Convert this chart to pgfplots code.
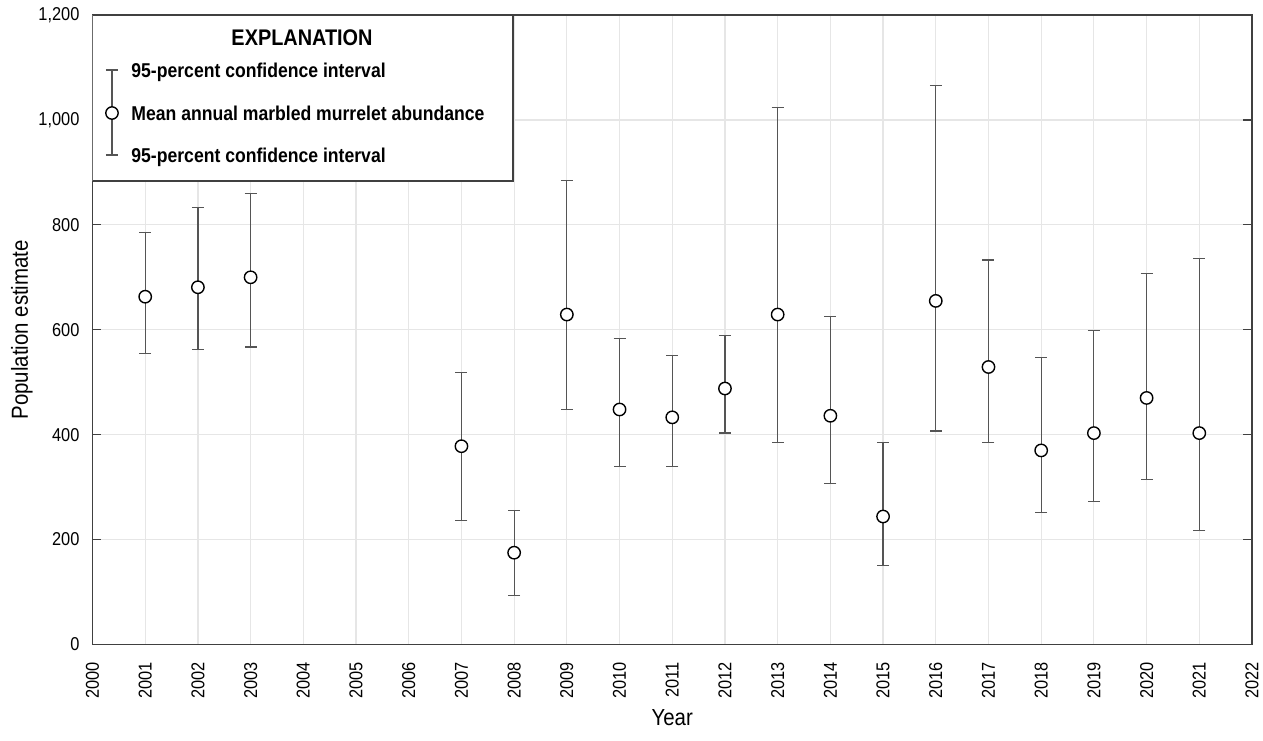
\documentclass[border=0pt]{standalone}
\usepackage{fontspec}
\setmainfont{Liberation Sans}[FakeStretch=0.88]
\usepackage{pgfplots}
\pgfplotsset{compat=1.18}
\usepackage{pgfplotstable}
\definecolor{gridgray}{HTML}{E6E6E6}
\definecolor{errgray}{HTML}{555555}
\definecolor{axgray}{HTML}{404040}

\pgfplotstableread{
year mean upper lower
2001 663 785 555
2002 681 833 563
2003 700 859 567
2007 378 518 237
2008 175 256 93
2009 629 885 448
2010 448 584 340
2011 433 551 340
2012 488 589 403
2013 629 1023 385
2014 436 625 307
2015 244 385 151
2016 655 1065 407
2017 529 733 385
2018 370 547 251
2019 403 599 273
2020 470 707 314
2021 403 736 218
}\murrelet

\begin{document}
\begin{tikzpicture}
\begin{axis}[
  at={(0,0)}, anchor=south west,
  scale only axis, width=579.75pt, height=314.75pt,
  xmin=2000, xmax=2022, ymin=0, ymax=1200,
  xtick={2000,2001,...,2022}, ytick={0,200,...,1200},
  grid=major, grid style={gridgray, line width=0.6pt},
  axis line style={axgray, line width=0.7pt},
  major tick style={axgray, line width=0.6pt},
  major tick length=4.5pt,
  x tick style={draw=none},
  tick align=inside,
  /pgf/number format/assume math mode=true,
  xticklabel shift=5.5pt,
  xticklabel style={rotate=90, anchor=east, font=\fontsize{9.3}{11}\selectfont, /pgf/number format/1000 sep={}},
  yticklabel style={xshift=-3pt, font=\fontsize{9.3}{11}\selectfont, /pgf/number format/1000 sep={,}},
  xlabel={Year}, ylabel={Population estimate},
  label style={font=\fontsize{11.6}{14}\selectfont},
  xlabel style={at={(axis description cs:0.5,-0.1168)}, anchor=center},
  ylabel style={at={(axis description cs:-0.061,0.5)}, anchor=center},
]
\addplot[only marks, mark=*, mark size=3.1pt,
  mark options={fill=white, draw=black, line width=0.7pt},
  error bars/.cd, y dir=both, y explicit, error mark=-,
  error mark options={rotate=90, mark size=3pt, line width=0.6pt, errgray},
  error bar style={line width=0.6pt, errgray}]
  table[x=year, y=mean,
    y error plus expr=\thisrow{upper}-\thisrow{mean},
    y error minus expr=\thisrow{mean}-\thisrow{lower}] {\murrelet};

% explanation box
\draw[axgray, line width=0.7pt, fill=white] (axis description cs:0,1) rectangle (axis description cs:0.3627,0.7363);
\node[font=\fontsize{11.3}{13}\selectfont\bfseries] at (axis description cs:0.1807,0.9635) {EXPLANATION};
\draw[errgray, line width=0.6pt] (axis description cs:0.0168,0.9126) -- (axis description cs:0.0168,0.7776);
\draw[errgray, line width=0.6pt] ([xshift=-3pt]axis description cs:0.0168,0.9126) -- ([xshift=3pt]axis description cs:0.0168,0.9126);
\draw[errgray, line width=0.6pt] ([xshift=-3pt]axis description cs:0.0168,0.7776) -- ([xshift=3pt]axis description cs:0.0168,0.7776);
\draw[black, line width=0.7pt, fill=white] (axis description cs:0.0168,0.8443) circle[radius=3.1pt];
\begin{scope}[every node/.style={anchor=west, inner sep=0pt, text height=7.2pt, text depth=0pt, font=\fontsize{10}{12}\selectfont\bfseries}]
\node at (axis description cs:0.0332,0.9126) {95-percent confidence interval};
\node at (axis description cs:0.0332,0.8443) {Mean annual marbled murrelet abundance};
\node at (axis description cs:0.0332,0.7776) {95-percent confidence interval};
\end{scope}
\end{axis}
\pgfresetboundingbox
\useasboundingbox (-46.25pt,-47.75pt) rectangle (585.25pt,322.25pt);
\end{tikzpicture}
\end{document}
